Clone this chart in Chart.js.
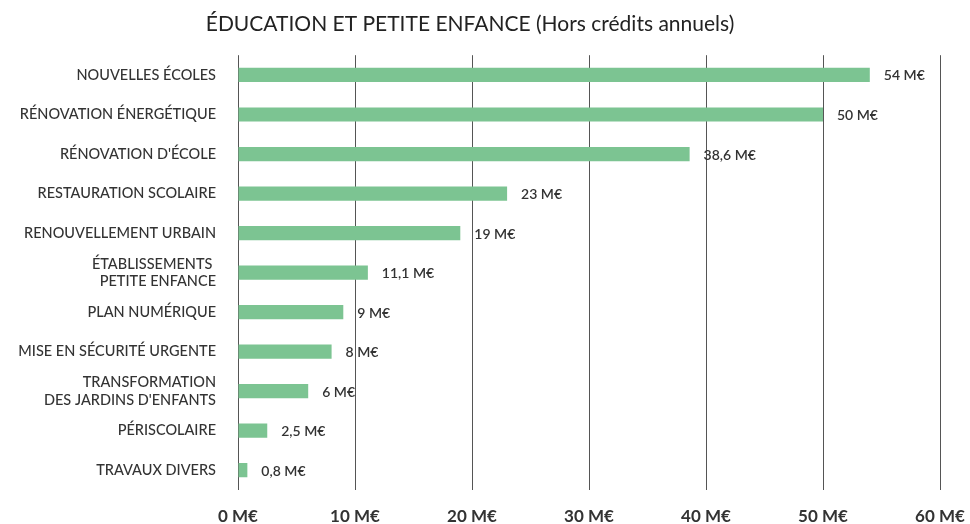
<!DOCTYPE html>
<html>
<head>
<meta charset="utf-8">
<script src="https://cdn.jsdelivr.net/npm/chart.js@4"></script>
<style>
    html, body { margin: 0; padding: 0; background: #ffffff; }
    #wrap { width: 970px; height: 524px; }
</style>
</head>
<body>
<div id="wrap"><canvas id="chart"></canvas></div>
<script>
const categories = [
    'NOUVELLES ÉCOLES',
    'RÉNOVATION ÉNERGÉTIQUE',
    "RÉNOVATION D'ÉCOLE",
    'RESTAURATION SCOLAIRE',
    'RENOUVELLEMENT URBAIN',
    ['ÉTABLISSEMENTS ', 'PETITE ENFANCE'],
    'PLAN NUMÉRIQUE',
    'MISE EN SÉCURITÉ URGENTE',
    ['TRANSFORMATION', "DES JARDINS D'ENFANTS"],
    'PÉRISCOLAIRE',
    'TRAVAUX DIVERS'
];
const montants = [54, 50, 38.6, 23, 19, 11.1, 9, 8, 6, 2.5, 0.8];
const xTicks = [0, 10, 20, 30, 40, 50, 60];

const fmt = (v) => String(v).replace('.', ',') + ' M€';

// écrit la valeur au bout de chaque barre
const valueLabels = {
    id: 'valueLabels',
    afterDatasetsDraw(chart) {
        const ctx = chart.ctx;
        const meta = chart.getDatasetMeta(0);
        ctx.save();
        ctx.font = '600 14px Lato';
        ctx.fillStyle = '#333333';
        ctx.textAlign = 'left';
        ctx.textBaseline = 'middle';
        meta.data.forEach((bar, i) => {
            ctx.fillText(fmt(montants[i]), bar.x + 14, bar.y + 1);
        });
        ctx.restore();
    }
};

new Chart(document.getElementById('chart').getContext('2d'), {
    type: 'bar',
    data: {
        labels: categories,
        datasets: [{
            data: montants,
            backgroundColor: '#7cc492',
            borderWidth: 0,
            barPercentage: 0.36,
            categoryPercentage: 1
        }]
    },
    options: {
        indexAxis: 'y',
        responsive: true,
        maintainAspectRatio: false,
        animation: false,
        layout: {
            padding: { left: 0, right: 30, top: 0, bottom: 0 }
        },
        plugins: {
            legend: { display: false },
            tooltip: { enabled: false },
            title: {
                display: true,
                text: 'ÉDUCATION ET PETITE ENFANCE (Hors crédits annuels)',
                color: '#222222',
                font: { family: 'Lato', size: 21, weight: 'normal' },
                padding: { top: 12, bottom: 18 }
            }
        },
        scales: {
            x: {
                min: 0,
                max: 60,
                afterBuildTicks: (scale) => {
                    scale.ticks = xTicks.map((v) => ({ value: v }));
                },
                afterFit: (scale) => {
                    scale.height = 34;
                    scale.paddingLeft = 0;
                    scale.paddingRight = 0;
                },
                ticks: {
                    padding: 16,
                    color: '#333333',
                    font: { family: 'Lato', size: 17, weight: 'bold' },
                    callback: (v) => v + ' M€'
                },
                grid: {
                    display: true,
                    color: '#555555',
                    lineWidth: 1,
                    drawTicks: false
                },
                border: { display: false }
            },
            y: {
                afterFit: (scale) => { scale.width = 238; },
                ticks: {
                    padding: 22,
                    color: '#333333',
                    font: { family: 'Lato', size: 14.5, weight: '500', lineHeight: 1.2 }
                },
                grid: { display: false, drawTicks: false },
                border: { display: false }
            }
        }
    },
    plugins: [valueLabels]
});
</script>
</body>
</html>
